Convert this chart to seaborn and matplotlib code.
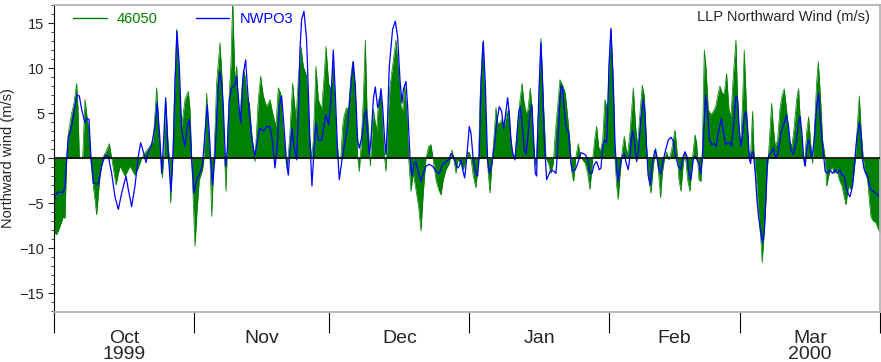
import matplotlib
matplotlib.use("Agg")
import matplotlib.pyplot as plt
from matplotlib.ticker import MultipleLocator
import numpy as np
import pandas as pd
import seaborn as sns

# Northward wind, days since 1 Oct 1999 00:00 and m/s
start = pd.Timestamp("1999-10-01")
end = pd.Timestamp("2000-04-01")

# buoy 46050 (green fill)
buoy_day = [
    # Oct
    0.0, 0.59, 1.33, 2.07, 2.44, 2.81, 3.18, 3.91, 4.43, 5.02, 5.32, 5.61, 6.35, 6.87, 7.38, 7.83, 8.12,
    8.71, 9.45, 10.19, 10.78, 11.67, 12.26, 12.77, 13.73, 14.62, 15.73, 16.84, 17.94, 18.68, 19.42, 20.16,
    21.27, 22.00, 22.74, 23.26, 23.70, 24.00, 24.29, 24.74, 25.25, 25.55, 25.84, 26.29, 26.66, 27.17, 27.69,
    28.28, 29.02, 29.76,
    # Nov
    30.13, 30.50, 30.72, 31.23, 31.75, 32.20, 32.93, 33.23, 33.82, 34.19, 34.56, 34.93, 35.44, 36.03, 36.77,
    37.29, 37.66, 38.11, 38.48, 38.84, 39.21, 39.58, 40.10, 40.47, 40.91, 41.35, 41.94, 42.31, 42.83, 43.27,
    43.79, 44.52, 45.26, 45.78, 46.37, 47.11, 47.85, 48.44, 49.17, 49.69, 50.21, 50.80, 51.39, 51.68, 52.27,
    52.86, 53.61, 54.12, 54.71, 55.23, 55.97, 56.56, 57.08, 57.45, 58.04, 58.56, 59.29, 59.89,
    # Dec
    60.25, 60.84, 61.36, 61.88, 62.47, 63.06, 63.58, 63.95, 64.31, 64.83, 65.27, 65.79, 66.16, 66.75, 67.27,
    67.64, 68.01, 68.52, 68.97, 69.34, 69.71, 70.08, 70.45, 70.74, 71.18, 71.48, 71.92, 72.44, 72.95, 73.25,
    73.55, 73.91, 74.43, 75.02, 75.76, 76.35, 76.87, 77.24, 77.68, 78.12, 78.57, 79.08, 79.60, 80.19, 80.78,
    81.30, 81.81, 82.41, 83.00, 83.51, 84.03, 84.62, 85.21, 85.73, 86.25, 86.84, 87.58, 88.17, 88.54, 89.06,
    89.43, 90.17, 90.68,
    # Jan
    91.27, 91.64, 92.01, 92.37, 92.89, 93.48, 94.07, 94.37, 94.96, 95.33, 95.84, 96.21, 96.58, 97.03, 97.54,
    97.91, 98.28, 98.80, 99.24, 99.76, 100.28, 100.72, 101.09, 101.61, 102.12, 102.57, 103.08, 103.68, 104.05,
    104.56, 105.00, 105.52, 105.89, 106.41, 106.78, 107.15, 107.51, 107.88, 108.40, 108.99, 109.58, 110.10,
    110.61, 111.06, 111.58, 112.09, 112.68, 113.27, 113.79, 114.31, 114.75, 115.12, 115.64, 116.15, 116.60,
    117.11, 117.71, 118.22, 118.74, 119.33, 119.77, 120.22, 120.66, 121.03, 121.55,
    # Feb
    122.06, 122.65, 122.95, 123.39, 123.91, 124.28, 124.65, 125.01, 125.38, 125.90, 126.34, 126.79, 127.08,
    127.60, 128.34, 128.86, 129.30, 129.82, 130.33, 130.78, 131.22, 131.66, 132.25, 132.77, 133.29, 133.88,
    134.39, 134.76, 135.21, 135.72, 136.24, 136.83, 137.57, 137.94, 138.45, 138.90, 139.41, 139.78, 140.37,
    140.89, 141.41, 142.00, 142.37, 142.88, 143.33, 143.62, 144.06, 144.43, 144.95, 145.54, 146.06, 146.57,
    147.16, 147.53, 148.05, 148.49, 149.01, 149.53, 149.97, 150.49,
    # Mar
    151.08, 151.45, 151.82, 152.19, 152.56, 152.92, 153.44, 153.88, 154.32, 154.77, 155.06, 155.36, 155.73,
    156.10, 156.61, 156.90, 157.57, 157.94, 158.24, 158.46, 158.98, 159.35, 159.79, 160.31, 160.82, 161.27,
    161.78, 162.30, 162.89, 163.48, 164.00, 164.52, 164.96, 165.48, 165.99, 166.29, 166.73, 167.18, 167.62,
    168.06, 168.43, 168.95, 169.32, 169.84, 170.28, 170.87, 171.17, 171.76, 172.35, 172.87, 173.46, 173.97,
    174.57, 175.08, 175.45, 176.04, 176.56, 177.08, 177.52, 177.96, 178.41, 178.85, 179.29, 179.74, 180.25,
    180.62, 180.99, 181.36, 182.10, 182.69, 183.0,
]
buoy_wind = [
    # Oct
    -8.3, -8.5, -7.6, -6.5, -6.7, 0.0, 2.8, 5.0, 6.1, 8.3, 5.4, 0.0, 0.0, 6.5, 4.3, 2.8, 0.0,
    -3.1, -6.3, -2.0, 0.0, 0.9, 1.6, 0.0, -3.0, -0.9, -2.0, -0.9, -1.9, -1.1, 0.0, 0.6,
    1.3, 2.0, 7.8, 2.8, 0.0, -2.2, 0.0, 6.5, 1.7, 0.0, -5.0, 0.0, 6.5, 14.3, 8.3,
    3.5, 6.5, 7.4,
    # Nov
    5.4, 0.0, -3.1, -9.8, -5.4, -2.4, -1.3, 0.0, 7.2, 2.8, 0.0, -6.5, 0.0, 8.3, 12.8,
    8.3, 1.3, -3.7, 2.8, 7.2, 10.6, 17.6, 8.3, 10.2, 4.6, 5.7, 9.8, 9.1, 6.5, 6.1,
    2.8, -0.4, 6.5, 9.1, 6.9, 5.7, 6.5, 5.0, 3.5, 7.8, 7.2, 2.8, 0.0, -1.3, 2.8,
    8.3, 4.3, 8.7, 12.4, 10.2, 9.1, 2.8, 0.0, 2.0, 10.2, 6.5, 5.4, 9.4,
    # Dec
    12.4, 8.3, 7.6, 10.2, 2.8, 0.0, 0.2, 3.5, 4.8, 5.6, 5.4, 9.1, 10.7, 8.0, 0.0,
    -1.5, 1.3, 6.5, 13.1, 5.4, 2.8, -0.9, 2.8, 5.4, 3.9, 3.1, 6.5, 6.9, 2.0, 0.0,
    -1.5, 3.5, 8.0, 10.2, 13.1, 9.4, 5.7, 5.2, 8.0, 5.4, 0.0, -3.7, -1.7, -3.5, -5.4,
    -8.1, -3.9, 0.0, 1.3, 1.5, -0.2, -2.4, -3.5, -4.1, -2.4, -1.3, -0.6, 0.9, 0.0, -1.7,
    -0.2, -0.6, -1.3,
    # Jan
    -0.2, 0.7, 0.6, 0.0, -2.0, -3.3, -0.2, 6.5, 12.8, 8.3, 0.9, -1.7, -3.9, -0.6, 2.8,
    5.6, 3.9, 3.9, 4.3, 3.5, 5.0, 5.4, 2.8, 0.2, 0.0, 2.8, 5.7, 8.3, 6.5,
    5.0, 5.4, 7.8, 5.4, 0.0, -0.9, 2.8, 8.3, 13.3, 6.5, 0.0, -0.6, -1.7,
    -0.6, 2.8, 5.7, 8.7, 8.1, 7.2, 4.6, 1.7, -1.7, -2.6, 0.2, 1.6, 0.2,
    -0.2, -0.6, -1.7, -3.5, -0.2, 2.0, 3.5, 1.3, 0.7, 2.0,
    # Feb
    6.5, 5.4, 10.2, 14.3, 8.3, 0.0, -3.1, -4.6, -2.0, 0.9, 2.4, 0.9, 0.4,
    2.8, 7.8, 3.5, 1.3, 5.0, 8.1, 6.9, 2.0, -2.0, -3.9, -0.9, 1.1, -1.3,
    -4.4, -1.7, -0.2, 0.7, -0.2, 0.9, 3.1, 1.3, -2.4, -3.7, -0.6, 0.7, -2.4,
    -3.7, -0.2, 2.6, 1.7, -2.4, -2.6, 0.6, 12.0, 10.2, 5.4, 4.8, 5.2, 5.7,
    7.2, 8.0, 7.2, 7.2, 9.4, 5.4, 4.6, 9.1,
    # Mar
    13.1, 6.5, 2.4, 2.0, 6.5, 12.0, 5.4, 0.9, 0.2, 5.2, 0.9, -0.9, -3.1,
    -6.1, -9.1, -11.6, -6.5, -1.7, 0.0, 1.7, 6.1, 3.5, 1.3, 2.0, 5.4, 6.9,
    7.7, 5.4, 2.0, 1.3, 3.5, 6.5, 7.7, 2.8, 0.0, -0.9, 2.8, 4.6, 1.7,
    -0.6, 2.8, 8.3, 10.7, 6.5, 2.0, 0.0, -3.1, -1.7, -0.9, -1.7, -1.3, -2.4,
    -3.1, -4.3, -5.2, -3.1, -3.5, -2.4, -0.2, 3.5, 6.9, 2.8, 0.0, -1.7, -2.4,
    -4.6, -6.5, -6.9, -7.2, -8.0, -8.3,
]

# station NWPO3 (blue line)
stn_day = [
    # Oct
    0.0, 0.22, 0.74, 2.07, 2.44, 2.81, 3.18, 3.69, 4.28, 5.02, 5.61, 6.13, 6.87, 7.24, 7.75, 8.12, 8.71,
    9.82, 10.56, 11.30, 12.04, 12.77, 13.51, 14.25, 14.99, 15.95, 16.47, 17.20, 17.94, 18.68, 19.20, 19.79,
    20.38, 20.90, 21.64, 22.37, 22.89, 23.48, 23.85, 24.22, 24.74, 25.33, 25.92, 26.43, 26.80, 27.25, 27.76,
    28.28, 29.02, 29.54, 29.98,
    # Nov
    30.13, 30.50, 31.01, 31.60, 32.34, 32.93, 33.45, 33.97, 34.41, 34.71, 35.15, 35.66, 36.40, 36.77, 37.22,
    37.51, 38.03, 38.40, 38.84, 39.36, 40.10, 40.47, 41.06, 41.35, 41.79, 42.09, 42.46, 42.83, 43.27, 43.86,
    44.52, 45.04, 45.63, 46.37, 47.11, 47.85, 48.36, 48.96, 49.47, 49.91, 50.43, 50.95, 51.54, 51.91, 52.28,
    52.72, 53.17, 53.76, 54.20, 54.49, 54.86, 55.38, 55.97, 56.34, 56.71, 57.15, 57.60, 58.04, 58.56, 59.29,
    59.89,
    # Dec
    60.25, 60.84, 61.36, 61.88, 62.32, 62.84, 63.21, 63.80, 64.31, 65.05, 65.79, 66.31, 66.75, 67.27, 67.64,
    68.23, 68.75, 69.12, 69.49, 69.86, 70.22, 70.74, 71.18, 71.70, 72.07, 72.44, 72.81, 73.25, 73.55, 73.91,
    74.28, 75.02, 75.61, 76.13, 76.65, 77.09, 77.39, 77.98, 78.35, 78.86, 79.31, 79.82, 80.19, 80.78, 81.30,
    81.81, 82.41, 83.14, 83.88, 84.62, 85.36, 86.10, 86.84, 87.43, 87.95, 88.46, 89.06, 89.43, 89.80, 90.17,
    90.54, 90.98,
    # Jan
    91.27, 92.01, 92.37, 92.89, 93.48, 93.85, 94.22, 94.59, 95.11, 95.55, 96.06, 96.43, 97.03, 97.54, 98.06,
    98.65, 99.17, 99.61, 99.98, 100.50, 100.87, 101.24, 101.61, 102.12, 102.49, 102.94, 103.31, 103.68,
    104.19, 104.56, 104.93, 105.45, 105.89, 106.26, 106.63, 106.93, 107.15, 107.51, 107.88, 108.25, 108.62,
    109.14, 109.73, 110.10, 110.84, 111.21, 111.58, 111.95, 112.31, 112.68, 113.05, 113.42, 114.01, 114.53,
    114.90, 115.49, 116.01, 116.38, 116.75, 117.26, 117.85, 118.22, 118.74, 119.18, 119.70, 120.22, 120.81,
    121.18, 121.55,
    # Feb
    122.06, 122.43, 122.65, 122.95, 123.39, 123.91, 124.28, 124.65, 125.01, 125.38, 125.90, 126.34, 126.79,
    127.23, 127.60, 128.12, 128.56, 129.08, 129.45, 130.04, 130.56, 130.93, 131.30, 131.66, 132.11, 132.55,
    133.14, 133.58, 134.03, 134.47, 134.99, 135.50, 136.09, 136.69, 137.20, 137.72, 138.31, 138.90, 139.41,
    139.78, 140.23, 140.67, 141.11, 141.63, 142.00, 142.44, 142.88, 143.33, 143.62, 143.99, 144.36, 144.80,
    145.25, 145.69, 146.28, 146.72, 147.16, 147.90, 148.35, 148.79, 149.23, 149.75, 150.12, 150.71,
    # Mar
    151.08, 151.45, 151.82, 152.19, 152.56, 152.92, 153.29, 153.66, 154.03, 154.32, 154.62, 154.92, 155.36,
    155.73, 156.10, 156.61, 156.98, 157.35, 157.72, 158.09, 158.46, 158.90, 159.35, 159.79, 160.09, 160.53,
    161.05, 161.78, 162.30, 162.74, 163.26, 163.78, 164.37, 164.96, 165.33, 165.70, 166.07, 166.44, 166.81,
    167.18, 167.47, 167.92, 168.43, 168.95, 169.39, 169.91, 170.43, 170.87, 171.39, 171.90, 172.49, 173.08,
    173.60, 174.12, 174.57, 175.08, 175.45, 175.90, 176.34, 176.93, 177.30, 177.81, 178.41, 178.78, 179.14,
    179.51, 179.88, 180.25, 180.62, 180.99, 181.51, 182.10, 183.0,
]
stn_wind = [
    # Oct
    -5.0, -4.3, -3.8, -3.8, -3.1, -0.2, 2.4, 3.0, 4.6, 7.0, 6.9, 5.4, 3.9, 4.4, 4.3, 0.6, -2.8,
    -2.9, -0.9, 0.3, 0.2, -1.7, -4.3, -5.7, -3.9, -2.0, -3.5, -5.4, -3.1, 0.2, 1.7, 0.7,
    -0.5, 0.7, 1.5, 3.5, 6.1, 2.0, -1.7, 1.3, 6.7, 0.2, -3.7, 0.9, 8.3, 14.1, 10.2,
    3.1, 1.3, 3.5, 4.3,
    # Nov
    3.5, -0.2, -3.9, -2.4, -1.7, -0.6, 2.8, 5.9, 2.8, -0.2, -3.0, 0.2, 8.0, 9.6, 8.0,
    5.7, -0.9, 0.9, 6.5, 7.8, 8.1, 9.1, 5.4, 3.9, 8.3, 9.8, 10.9, 8.0, 5.0, 2.0,
    0.2, 2.0, 3.3, 3.0, 3.5, 3.5, 2.0, -1.1, 1.3, 5.7, 6.9, 3.5, -0.6, -1.9, 0.9,
    3.3, 1.3, -0.2, 5.7, 12.0, 15.4, 16.3, 13.1, 7.6, 1.7, -3.1, 0.9, 3.9, 2.0, 2.0,
    3.9,
    # Dec
    4.8, 3.7, 6.5, 12.0, 7.2, 0.6, -2.4, -0.2, 1.3, 3.5, 8.3, 10.7, 8.0, 2.0, 1.1,
    2.4, 4.6, 5.4, 2.8, 0.4, 2.0, 6.5, 7.9, 5.6, 6.1, 7.7, 5.7, 2.0, 0.4, 4.3,
    10.2, 14.3, 15.2, 13.5, 8.7, 6.1, 7.6, 8.5, 5.7, 0.2, -2.0, -0.6, -0.4, -1.7, -2.6,
    -1.7, -0.9, -0.7, -0.9, -1.5, -1.7, -0.7, -0.4, -0.2, 0.5, 0.2, -0.7, -1.1, -0.9, -0.2,
    -1.3, -2.2,
    # Jan
    -0.9, 3.5, 2.8, -0.2, -1.7, -2.0, 0.2, 8.3, 13.0, 8.3, -0.2, -1.7, -0.7, 1.3, 3.9,
    5.7, 5.2, 3.3, 4.6, 6.7, 5.0, 2.0, 0.6, -0.2, 2.0, 5.0, 5.7, 3.9,
    0.9, 0.4, 2.0, 5.0, 5.9, 2.0, -1.7, -2.0, 2.8, 8.3, 12.8, 8.3, 2.0,
    -2.4, -1.7, -1.3, -1.5, -1.7, 0.9, 5.4, 8.0, 7.8, 5.4, 3.5, 2.8, -0.7,
    -1.5, -1.3, -0.6, 0.0, 0.6, 0.5, 0.3, -0.2, -1.7, -1.7, -0.7, -0.4, -1.3,
    -1.1, 1.3,
    # Feb
    2.0, 1.7, 4.6, 10.2, 14.4, 8.3, 1.7, -1.3, -2.6, -0.9, 0.2, 0.5, -0.6,
    -1.3, 0.2, 3.0, 2.0, -0.4, 0.6, 4.3, 6.5, 5.0, 0.9, -2.0, -3.0, -0.6,
    0.9, 0.2, -1.3, -1.7, -0.2, 0.9, 2.0, 2.3, 1.9, 0.2, -0.9, -1.3, 0.2,
    0.7, 0.2, -1.7, -2.4, -0.2, 0.2, -0.2, -0.6, -1.7, -0.2, 3.5, 7.0, 5.0,
    2.0, 1.5, 1.6, 1.3, 2.8, 4.4, 2.8, 1.5, 1.7, 1.7, 1.3, 4.6,
    # Mar
    6.9, 6.5, 3.1, 1.3, 2.8, 4.6, 5.2, 3.5, 0.0, -0.6, 0.6, 0.7, -1.7,
    -4.6, -6.5, -8.3, -9.4, -8.3, -4.6, -0.2, 0.4, 0.6, 1.1, 0.2, 0.0, 0.9,
    2.8, 3.9, 4.8, 3.5, 0.9, 0.4, 1.7, 3.9, 4.6, 2.8, 0.2, -0.9, 1.3,
    2.0, 1.3, 0.0, 2.0, 5.7, 7.2, 3.5, 0.6, -1.5, -1.7, -1.3, -1.7, -1.3,
    -1.7, -1.3, -1.9, -2.0, -3.1, -3.9, -4.3, -3.1, -0.9, 2.0, 3.9, 2.8, -0.2,
    -1.3, -1.7, -2.0, -3.1, -3.5, -3.7, -3.9, -4.3,
]

month_labels = ["Oct\n1999", "Nov", "Dec", "Jan", "Feb", "Mar\n2000"]
yticks = [-15, -10, -5, 0, 5, 10, 15]

assert len(buoy_day) == len(buoy_wind)
assert len(stn_day) == len(stn_wind)

buoy = pd.DataFrame({"time": start + pd.to_timedelta(buoy_day, unit="D"), "wind": buoy_wind})
stn = pd.DataFrame({"time": start + pd.to_timedelta(stn_day, unit="D"), "wind": stn_wind})

sns.set_style("ticks")
plt.rcParams["font.family"] = ["Liberation Sans", "DejaVu Sans"]

fig = plt.figure(figsize=(8.81, 3.62), dpi=100)
ax = fig.add_axes([54 / 881, 50 / 362, 826 / 881, 307 / 362])

ax.fill_between(buoy["time"], 0, buoy["wind"], color="green", lw=0, interpolate=True)
sns.lineplot(data=buoy, x="time", y="wind", color="green", lw=0.5, ax=ax, label="46050")
sns.lineplot(data=stn, x="time", y="wind", color="blue", lw=0.9, ax=ax, label="NWPO3")
ax.axhline(0, color="black", lw=1.2, zorder=3)

# y axis
ax.set_ylim(-17.1, 17.0)
ax.set_yticks(yticks)
ax.yaxis.set_minor_locator(MultipleLocator(1))
ax.tick_params(axis="y", which="major", length=4, width=0.8, pad=3, labelsize=10.5)
ax.tick_params(axis="y", which="minor", length=2, width=0.6)
ax.set_ylabel("Northward wind (m/s)", fontsize=10.5)
ax.yaxis.set_label_coords(-0.047, 0.5)

# x axis: ticks at month starts, labels centred in each month
month_starts = pd.date_range(start, end, freq="MS")
mids = month_starts[:-1] + (month_starts[1:] - month_starts[:-1]) / 2
ax.set_xlim(start, end)
ax.set_xticks(month_starts)
ax.set_xticklabels([""] * len(month_starts))
ax.set_xticks(mids, minor=True)
ax.set_xticklabels(month_labels, minor=True)
ax.tick_params(axis="x", which="major", length=15, width=0.8, color="black")
ax.tick_params(axis="x", which="minor", length=0, pad=13, labelsize=14)
for lab in ax.get_xticklabels(minor=True):
    lab.set_linespacing(0.95)
ax.set_xlabel("")

for side in ["top", "bottom", "right"]:
    ax.spines[side].set_color("#b4b4b4")
    ax.spines[side].set_linewidth(1.3)
ax.spines["left"].set_color("black")
ax.spines["left"].set_linewidth(0.8)

leg = ax.legend(loc="upper left", bbox_to_anchor=(0.023, 0.978), ncol=2, frameon=False,
                handlelength=2.3, handletextpad=0.7, columnspacing=2.6, borderpad=0,
                borderaxespad=0, fontsize=10.5, labelcolor="linecolor")
for h in leg.get_lines():
    h.set_linewidth(1.0)

ax.text(0.988, 0.985, "LLP Northward Wind (m/s)", transform=ax.transAxes,
        ha="right", va="top", fontsize=10.5)

fig.savefig("out.png", dpi=100)
